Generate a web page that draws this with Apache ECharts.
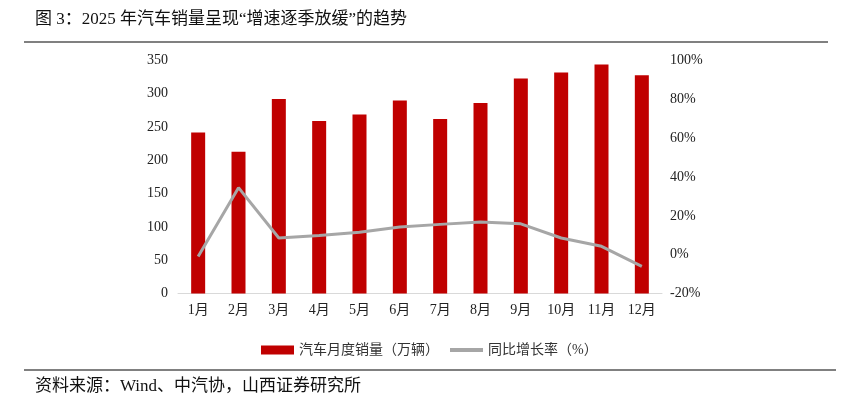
<!DOCTYPE html>
<html>
<head>
<meta charset="utf-8">
<script src="https://cdn.jsdelivr.net/npm/echarts@6/dist/echarts.min.js"></script>
<style>
html,body{margin:0;padding:0;background:#fff;}
#c{width:847px;height:399px;}
</style>
</head>
<body>
<div id="c"></div>
<script>
var months = ['1月','2月','3月','4月','5月','6月','7月','8月','9月','10月','11月','12月'];
var sales = [242, 213, 292, 259, 269, 290, 262, 286, 323, 332, 344, 328];
var yoy = [-0.9, 34.5, 8.6, 9.9, 11.5, 14.2, 15.6, 16.8, 15.9, 8.6, 4.3, -6.0];
var salesName = '汽车月度销量（万辆）';
var yoyName = '同比增长率（%）';
var titleText = '图 3：2025 年汽车销量呈现“增速逐季放缓”的趋势';
var sourceText = '资料来源：Wind、中汽协，山西证券研究所';

var FONT = '"Liberation Serif", "Noto Sans CJK SC", serif';
var chart = echarts.init(document.getElementById('c'), null, {renderer: 'canvas'});
chart.setOption({
  backgroundColor: '#ffffff',
  animation: false,
  textStyle: {fontFamily: FONT},
  graphic: [
    {type: 'text', left: 35, top: 11, style: {text: titleText, fontSize: 17, fill: '#111', fontFamily: FONT}},
    {type: 'line', shape: {x1: 24, y1: 42, x2: 828, y2: 42}, style: {stroke: '#808080', lineWidth: 2}},
    {type: 'line', shape: {x1: 24, y1: 370, x2: 836, y2: 370}, style: {stroke: '#808080', lineWidth: 2}},
    {type: 'text', left: 35, top: 378, style: {text: sourceText, fontSize: 17, fill: '#111', fontFamily: FONT}}
  ],
  legend: {
    left: 256, top: 338,
    itemGap: 9,
    textStyle: {fontSize: 14, color: '#333', fontFamily: FONT},
    data: [
      {name: salesName, icon: 'rect'},
      {name: yoyName, itemStyle: {opacity: 0}, lineStyle: {width: 4, color: '#a6a6a6'}}
    ],
    itemWidth: 33, itemHeight: 9
  },
  grid: {left: 178, right: 185, top: 60.5, bottom: 105.5},
  xAxis: {
    type: 'category', data: months,
    axisTick: {show: false},
    axisLine: {lineStyle: {color: '#d9d9d9', width: 1}},
    axisLabel: {fontSize: 14, color: '#222', margin: 10, fontFamily: FONT}
  },
  yAxis: [
    {type: 'value', min: 0, max: 350, interval: 50,
     splitLine: {show: false}, axisLine: {show: false}, axisTick: {show: false},
     axisLabel: {fontSize: 14, color: '#222', margin: 10, fontFamily: FONT}},
    {type: 'value', min: -20, max: 100, interval: 20,
     splitLine: {show: false}, axisLine: {show: false}, axisTick: {show: false},
     axisLabel: {fontSize: 14, color: '#222', margin: 8, formatter: '{value}%', fontFamily: FONT}}
  ],
  series: [
    {name: salesName, type: 'bar', data: sales, barWidth: 14,
     itemStyle: {color: '#c00000'}},
    {name: yoyName, type: 'line', yAxisIndex: 1, data: yoy,
     symbol: 'none', lineStyle: {color: '#a6a6a6', width: 3}, itemStyle: {color: '#a6a6a6'}}
  ]
});
</script>
</body>
</html>
